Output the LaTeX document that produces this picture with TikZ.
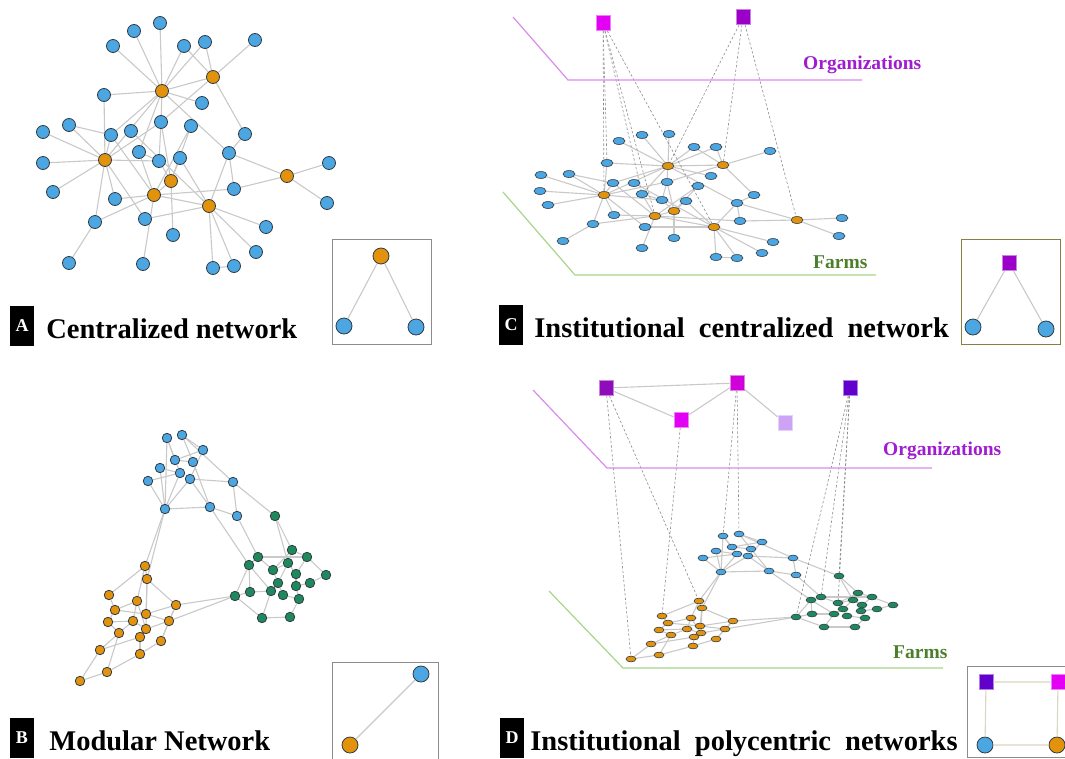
\documentclass[tikz,border=0pt]{standalone}
\usepackage{fontspec}
\setmainfont{Liberation Serif}
\usetikzlibrary{positioning,shapes.geometric}

\definecolor{dotblue}{HTML}{4BA6E2}
\definecolor{dotorange}{HTML}{E3920B}
\definecolor{dotgreen}{HTML}{1E8A5C}
\definecolor{rim}{HTML}{2F3B45}
\definecolor{linkgray}{HTML}{C9C9C9}
\definecolor{tiegray}{HTML}{8C8C8C}
\definecolor{orgline}{HTML}{D88CEB}
\definecolor{orgtext}{HTML}{A01CD0}
\definecolor{farmline}{HTML}{A8D48C}
\definecolor{farmtext}{HTML}{4C7F2C}
\definecolor{sqmagenta}{HTML}{E200F5}
\definecolor{sqpurple}{HTML}{9A00C8}
\definecolor{sqplum}{HTML}{8E0CBA}
\definecolor{sqorchid}{HTML}{D000D8}
\definecolor{sqlilac}{HTML}{CDA4F5}
\definecolor{sqviolet}{HTML}{6200CC}
\definecolor{olive}{HTML}{8A7E45}
\definecolor{tan}{HTML}{DAD6C0}

\newcommand\gap{\hspace{7pt} }

\pgfdeclarelayer{back}
\pgfsetlayers{back,main}

\begin{document}
\begin{tikzpicture}[x=1pt,y=-1pt,
  dot/.style={circle,draw=rim,line width=.8pt,inner sep=0,minimum size=#1},
  flat/.style={ellipse,draw=rim,line width=.6pt,inner sep=0,minimum width=#1,minimum height=0.58*#1},
  link/.style={draw=linkgray,line width=1.1pt},
  tie/.style={draw=tiegray,line width=.6pt,dash pattern=on 2.5pt off 2pt},
  sq/.style={rectangle,fill=#1,draw=#1!50,line width=.8pt,inner sep=0,minimum width=14pt,minimum height=15pt},
  tag/.style={fill=black,text=white,inner sep=0,minimum width=24pt,minimum height=40pt,font=\bfseries\fontsize{18}{18}\selectfont},
  title/.style={inner sep=0,text height=25pt,text depth=1pt,font=\bfseries\fontsize{28.5}{30}\selectfont},
  layer/.style={inner sep=0,anchor=west,font=\bfseries\fontsize{19.5}{20}\selectfont}]
\useasboundingbox (0,0) rectangle (1065,758);

% A and C: same graph, flat and tilted
\foreach \i/\xa/\ya/\xc/\yc in {1/162/91/668/166, 2/213/77/723/165, 3/105/160/604/195, 4/171/181/674/211,
    5/154/195/655/216, 6/209/206/714/227, 7/287/176/797/220} {
  \node[dot=13pt,fill=dotorange] (a\i) at (\xa,\ya) {};
  \node[flat=12pt,fill=dotorange] (c\i) at (\xc,\yc) {};
}
\foreach \i/\xa/\ya/\xc/\yc in {8/160/23/669/134, 9/134/31/642/135, 10/113/46/619/141, 11/184/46/694/147,
    12/205/42/716/147, 13/255/40/770/151, 14/104/95/607/163, 15/202/103/711/176, 16/161/122/667/182,
    17/191/126/698/186, 18/69/125/569/174, 19/43/132/541/175, 20/43/163/540/191, 21/53/192/548/205,
    22/111/135/613/183, 23/131/131/634/183, 24/245/134/754/195, 25/139/152/642/194, 26/159/161/662/200,
    27/180/158/686/201, 28/229/153/737/203, 29/115/199/614/215, 30/234/189/740/221, 31/329/163/842/218,
    32/327/203/839/236, 33/95/222/593/224, 34/145/219/645/227, 35/173/235/674/238, 36/266/227/773/242,
    37/256/252/762/253, 38/69/263/563/241, 39/143/264/642/248, 40/213/268/716/257, 41/234/266/737/258} {
  \node[dot=13pt,fill=dotblue] (a\i) at (\xa,\ya) {};
  \node[flat=12pt,fill=dotblue] (c\i) at (\xc,\yc) {};
}

% B and D: modular graph
\foreach \i/\xb/\yb/\xd/\yd in {1/167/438/723/536, 2/182/435/739/534, 3/203/450/762/542, 4/175/460/732/547,
    5/193/462/751/549, 6/160/468/716/551, 7/180/473/737/554, 8/190/479/748/556, 9/148/481/703/558,
    10/233/482/793/558, 11/165/509/721/572, 12/210/507/769/571, 13/237/516/796/575} {
  \node[dot=9.5pt,fill=dotblue] (b\i) at (\xb,\yb) {};
  \node[flat=10pt,fill=dotblue] (d\i) at (\xd,\yd) {};
}
\foreach \i/\xb/\yb/\xd/\yd in {14/275/516/839/576, 15/292/550/858/593, 16/258/557/821/597, 17/307/557/872/597,
    18/249/565/811/600, 19/273/570/838/603, 20/288/563/853/600, 21/296/574/862/605, 22/326/575/893/605,
    23/278/583/843/609, 24/296/586/861/611, 25/310/583/877/609, 26/235/596/796/617, 27/250/592/812/614,
    28/271/591/834/614, 29/283/595/847/616, 30/299/599/865/618, 31/262/618/824/627, 32/290/617/855/627} {
  \node[dot=9.5pt,fill=dotgreen] (b\i) at (\xb,\yb) {};
  \node[flat=10pt,fill=dotgreen] (d\i) at (\xd,\yd) {};
}
\foreach \i/\xb/\yb/\xd/\yd in {33/145/566/699/601, 34/147/579/702/608, 35/109/595/662/616, 36/137/601/691/618,
    37/176/605/733/621, 38/115/610/668/623, 39/146/614/700/626, 40/108/622/659/630, 41/133/621/687/629,
    42/169/621/725/629, 43/119/633/671/635, 44/146/629/701/633, 45/140/637/694/637, 46/161/641/716/639,
    47/100/650/651/644, 48/140/654/693/646, 49/107/672/659/655, 50/80/681/631/659} {
  \node[dot=9.5pt,fill=dotorange] (b\i) at (\xb,\yb) {};
  \node[flat=10pt,fill=dotorange] (d\i) at (\xd,\yd) {};
}

% organizations
\node[sq=sqmagenta] (cm) at (603,23) {};
\node[sq=sqpurple] (cp) at (743,17) {};
\node[sq=sqplum] (dq1) at (606,388) {};
\node[sq=sqorchid] (dq2) at (737,383) {};
\node[sq=sqmagenta] (dq3) at (681,420) {};
\node[sq=sqlilac] (dq4) at (785,423) {};
\node[sq=sqviolet] (dq5) at (850,388) {};

\begin{pgfonlayer}{back}
\foreach \u/\v in {1/10,1/9,1/8,1/11,1/12,1/2,1/14,1/15,1/16,1/3,1/28,1/22,1/25,2/11,2/12,2/13,2/24,2/16,
    24/28,28/6,28/30,28/7,30/7,30/5,7/31,7/32,3/18,3/19,3/20,3/21,3/14,3/22,3/29,3/33,3/26,3/34,3/16,
    18/22,22/5,23/6,25/5,25/26,26/4,26/16,27/4,27/6,17/4,17/5,16/4,4/35,4/5,5/29,5/39,5/33,5/6,
    6/34,6/36,6/37,6/40,6/41,33/38,40/41} {
  \draw[link] (a\u) -- (a\v);
  \draw[link] (c\u) -- (c\v);
}
\foreach \u/\v in {1/4,1/7,1/11,2/3,2/5,2/10,3/4,3/8,4/5,6/7,6/11,9/11,9/7,7/11,8/11,8/10,8/12,5/12,
    11/12,12/13,10/13,10/14,12/18,13/16,11/33,11/34,
    14/15,14/20,15/17,15/20,15/19,16/18,16/17,16/19,18/26,18/27,19/23,19/20,20/23,20/21,21/17,17/22,
    22/25,25/24,21/24,23/28,23/29,29/30,24/30,28/27,27/26,26/31,31/32,32/30,31/28,18/28,37/26,42/26,
    33/34,33/35,33/36,34/37,34/39,34/44,35/38,36/38,36/41,37/42,37/39,37/46,38/40,38/39,40/41,41/44,
    41/43,40/43,42/44,42/46,44/45,39/42,43/47,45/47,45/48,46/48,47/50,48/49,49/50,43/49,36/44} {
  \draw[link] (b\u) -- (b\v);
  \draw[link] (d\u) -- (d\v);
}
\foreach \v in {14,3,25,5,6} \draw[tie] (cm) -- (c\v);
\foreach \v in {1,2,7} \draw[tie] (cp) -- (c\v);
\foreach \s/\v in {dq1/d50,dq1/d33,dq3/d35,dq2/d1,dq2/d2,dq5/d26,dq5/d16,dq5/d19,dq5/d14}
  \draw[tie] (\s) -- (\v);
\draw[link] (dq1) -- (dq2);
\draw[link] (dq1) -- (dq3);
\draw[link] (dq3) -- (dq2);
\draw[link] (dq2) -- (dq4);

% planes
\draw[orgline,line width=1.2pt] (513,17) -- (568,80) -- (862,80);
\draw[farmline,line width=1.2pt] (503,192) -- (575,275) -- (876,275);
\draw[orgline,line width=1.2pt] (533,390) -- (607,468) -- (932,468);
\draw[farmline,line width=1.2pt] (549,591) -- (623,668) -- (943,668);
\end{pgfonlayer}
\node[layer,text=orgtext] (orgC) at (803,65) {Organizations};
\node[layer,text=farmtext] (farmC) at (813,262) {Farms};
\node[layer,text=orgtext] (orgD) at (883,451) {Organizations};
\node[layer,text=farmtext] (farmD) at (893,652) {Farms};

% motifs
\draw[gray!90,line width=.8pt] (332,239) rectangle (431,344);
\node[dot=16pt,fill=dotorange] (ka) at (381,256) {};
\node[dot=16pt,fill=dotblue] (kb) at (344,326) {};
\node[dot=16pt,fill=dotblue] (kc) at (416,327) {};
\draw[link] (ka) -- (kb);
\draw[link] (ka) -- (kc);

\draw[gray!90,line width=.8pt] (332,662) rectangle (438,770);
\node[dot=16pt,fill=dotblue] (ma) at (421,674) {};
\node[dot=16pt,fill=dotorange] (mb) at (350,745) {};
\draw[link] (ma) -- (mb);

\draw[olive,line width=.9pt] (961,239) rectangle (1060,344);
\node[sq=sqpurple] (ia) at (1009,263) {};
\node[dot=16pt,fill=dotblue] (ib) at (973,327) {};
\node[dot=16pt,fill=dotblue] (ic) at (1046,329) {};
\draw[link] (ia) -- (ib);
\draw[link] (ia) -- (ic);

\draw[gray!90,line width=.8pt] (967,666) rectangle (1075,757);
\node[sq=sqviolet] (pa) at (986,682) {};
\node[sq=sqmagenta] (pb) at (1058,682) {};
\node[dot=16pt,fill=dotblue] (pc) at (985,745) {};
\node[dot=16pt,fill=dotorange] (pd) at (1057,745) {};
\draw[tan,line width=1.1pt] (pa) -- (pb) (pb) -- (pd) (pd) -- (pc) (pc) -- (pa);

% captions
\node[tag] (tagA) at (22,326) {A};
\node[title,right=12pt of tagA] (capA) {Centralized network};
\node[tag] (tagC) at (511,325) {C};
\node[title,right=11pt of tagC] (capC) {Institutional\gap centralized\gap network};
\node[tag] (tagB) at (22,738) {B};
\node[title,right=15pt of tagB] (capB) {Modular Network};
\node[tag] (tagD) at (512,738) {D};
\node[title,right=6pt of tagD] (capD) {Institutional\gap polycentric\gap networks};
\end{tikzpicture}
\end{document}
